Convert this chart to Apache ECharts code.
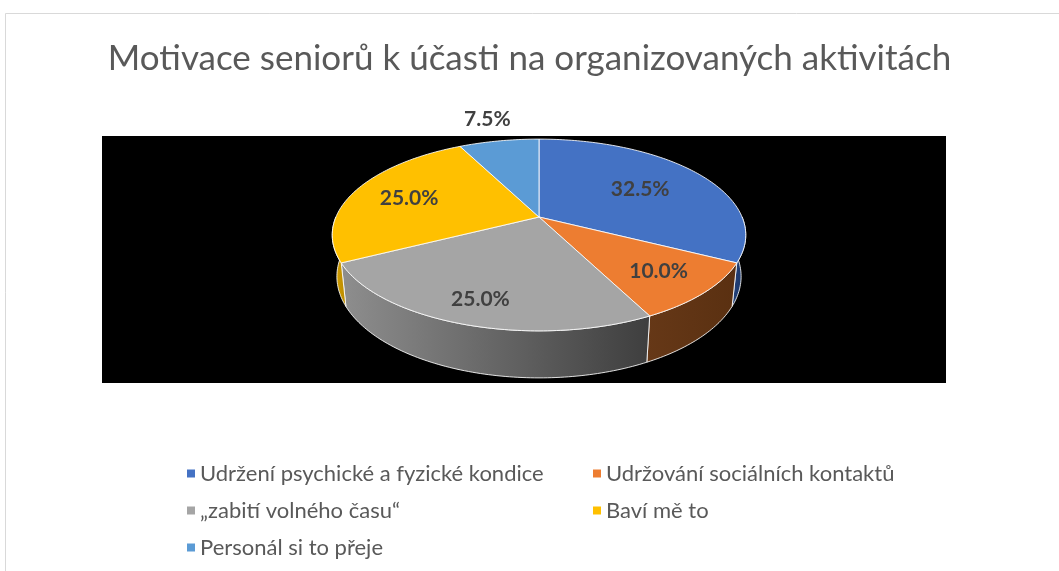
<!DOCTYPE html>
<html>
<head>
<meta charset="utf-8">
<title>Motivace seniorů</title>
<script src="https://cdn.jsdelivr.net/npm/echarts@6/dist/echarts.min.js"></script>
<style>
  html, body { margin: 0; padding: 0; background: #fff; }
  #chart { width: 1059px; height: 571px; }
</style>
</head>
<body>
<div id="chart"></div>
<script>
const categories = [
  'Udržení psychické a fyzické kondice',
  'Udržování sociálních kontaktů',
  '„zabití volného času“',
  'Baví mě to',
  'Personál si to přeje'
]
const shares = [32.5, 10.0, 25.0, 25.0, 7.5]

// styles
const topColors = ['#4472C4', '#ED7D31', '#A5A5A5', '#FFC000', '#5B9BD5']
const sideColors = [
  ['#22407a', '#1c3561'],
  ['#663817', '#5a3011'],
  ['#8e8e8e', '#3e3e3e'],
  ['#d8a200', '#b98a00'],
  ['#2f6192', '#2f6192']
]
const labelRadius = [0.62, 0.75, 0.8, 0.7, 1.36]

// simple perspective camera for the 3d pie
const CX = 539
const CY = 217
const FOCAL = 964
const DIST = 4.747
const ELEV = 27.1 * Math.PI / 180
const THICK = 0.231

function project(theta, r, h) {
  const u = r * Math.sin(theta)
  const w = r * Math.cos(theta)
  const c = Math.cos(ELEV)
  const s = Math.sin(ELEV)
  const yv = w * s + h * c
  const zv = DIST + w * c - h * s
  return [CX + FOCAL * u / zv, CY - FOCAL * yv / zv]
}

function arc(a, b, r, h) {
  const pts = []
  const n = Math.max(2, Math.ceil((b - a) / (Math.PI / 180)))
  for (let k = 0; k <= n; k++) {
    pts.push(project(a + (b - a) * k / n, r, h))
  }
  return pts
}

const total = shares.reduce((s, v) => s + v, 0)

function renderSlice(i, api) {
  let start = 0
  for (let k = 0; k < i; k++) start += shares[k]
  const a = start / total * Math.PI * 2
  const b = (start + api.value(0)) / total * Math.PI * 2
  const children = []

  // outer wall, only the part facing the viewer
  const lo = Math.max(a, Math.PI / 2)
  const hi = Math.min(b, Math.PI * 3 / 2)
  if (hi > lo) {
    const pts = arc(lo, hi, 1, 0).concat(arc(lo, hi, 1, -THICK).reverse())
    children.push({
      type: 'polygon',
      shape: { points: pts },
      style: {
        fill: {
          type: 'linear', x: 0, y: 0, x2: 1, y2: 0,
          colorStops: [
            { offset: 0, color: sideColors[i][0] },
            { offset: 1, color: sideColors[i][1] }
          ]
        },
        stroke: 'rgba(255,255,255,0.85)',
        lineWidth: 1
      }
    })
  }

  // top face
  const top = [project(0, 0, 0)].concat(arc(a, b, 1, 0))
  children.push({
    type: 'polygon',
    shape: { points: top },
    style: { fill: topColors[i], stroke: 'rgba(255,255,255,0.85)', lineWidth: 1 }
  })

  const lp = project((a + b) / 2, labelRadius[i], 0)
  children.push({
    type: 'text',
    x: lp[0],
    y: lp[1],
    style: {
      text: api.value(0).toFixed(1) + '%',
      fill: '#404040',
      fontSize: 21,
      fontWeight: 'bold',
      fontFamily: 'Lato',
      align: 'center',
      verticalAlign: 'middle'
    }
  })
  return { type: 'group', children }
}

const chart = echarts.init(document.getElementById('chart'))
chart.setOption({
  animation: false,
  color: topColors,
  title: {
    text: 'Motivace seniorů k účasti na organizovaných aktivitách',
    left: 'center',
    top: 36,
    textStyle: {
      color: '#595959',
      fontSize: 35,
      fontWeight: 'normal',
      fontFamily: 'Lato'
    }
  },
  graphic: [
    {
      type: 'rect',
      z: -10,
      shape: { x: 5.5, y: 13.5, width: 1100, height: 600 },
      style: { fill: '#fff', stroke: '#d9d9d9', lineWidth: 1 }
    },
    {
      type: 'rect',
      z: -5,
      shape: { x: 102, y: 136, width: 844, height: 247 },
      style: { fill: '#000' }
    }
  ],
  legend: {
    left: 182,
    top: 455,
    width: 840,
    icon: 'rect',
    itemWidth: 8,
    itemHeight: 8,
    itemGap: 10,
    textStyle: {
      color: '#595959',
      fontSize: 22,
      fontFamily: 'Lato',
      width: 383,
      lineHeight: 27
    },
    data: categories
  },
  series: categories.map((name, i) => ({
    type: 'custom',
    name: name,
    coordinateSystem: 'none',
    z: 2,
    itemStyle: { color: topColors[i] },
    data: [[shares[i]]],
    renderItem: (params, api) => renderSlice(i, api)
  }))
})
</script>
</body>
</html>
